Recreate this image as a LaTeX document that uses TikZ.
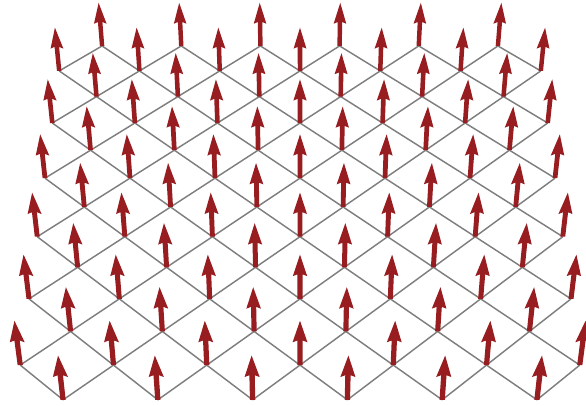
\documentclass[tikz,border=0pt]{standalone}
\usepackage{tikz}
\usepackage{xcolor}
\usetikzlibrary{calc}

% perspective camera: ground plane z=0, camera pitched down by \camT
\newcommand{\spinproj}[4]{% X, Y, Z, name
  \pgfmathsetmacro{\dep}{\camR + (#2)*cos(\camT) - (#3)*sin(\camT)}
  \pgfmathsetmacro{\upc}{(#2)*sin(\camT) + (#3)*cos(\camT)}
  \pgfmathsetmacro{\sx}{\xO + \camF*(#1)/\dep}
  \pgfmathsetmacro{\sy}{\yO - \camF*\upc/\dep}
  \coordinate (#4) at (\sx,\sy);
}

\begin{document}
\begin{tikzpicture}[
  x=1pt, y=-1pt,
  bond/.style={draw=cbond, line width=1.45pt},
  spin/.style={fill=cspin, draw=none},
]
\definecolor{cbond}{HTML}{7E7E7E}   % lattice bonds
\definecolor{cspin}{HTML}{971D20}   % spin arrows

\useasboundingbox (0,0) rectangle (586,406);
\clip (0,0) rectangle (586,406);

\pgfmathsetmacro{\camF}{2118}   % focal length (px)
\pgfmathsetmacro{\camR}{49.1}   % camera distance (lattice units)
\pgfmathsetmacro{\camT}{42.7}   % pitch angle
\pgfmathsetmacro{\xO}{300}
\pgfmathsetmacro{\yO}{207}

\pgfmathsetmacro{\sL}{1.36}     % spin length
\pgfmathsetmacro{\sH}{0.56}     % shaft top
\pgfmathsetmacro{\sB}{0.52}     % head barbs
\pgfmathsetmacro{\ws}{0.056}    % shaft half width
\pgfmathsetmacro{\wh}{0.158}    % head half width

% =====================================================================
% Lattice sites (c,r), c+r odd, r=0 at the back
% =====================================================================
\foreach \r in {0,...,12}{
  \foreach \c in {-6,...,6}{
    \pgfmathtruncatemacro{\odd}{mod(\c+\r+20,2)}
    \ifnum\odd=1
      \spinproj{\c}{6-\r}{0}{p\c-\r}
    \fi
  }
}

% =====================================================================
% Bonds between nearest neighbours
% =====================================================================
\foreach \r in {0,...,11}{
  \foreach \c in {-6,...,6}{
    \pgfmathtruncatemacro{\odd}{mod(\c+\r+20,2)}
    \pgfmathtruncatemacro{\rn}{\r+1}
    \pgfmathtruncatemacro{\cl}{\c-1}
    \pgfmathtruncatemacro{\cr}{\c+1}
    \ifnum\odd=1
      \ifnum\c>-6 \draw[bond] (p\c-\r) -- (p\cl-\rn); \fi
      \ifnum\c<6  \draw[bond] (p\c-\r) -- (p\cr-\rn); \fi
    \fi
  }
}

% =====================================================================
% Spins, back to front
% =====================================================================
\foreach \r in {0,...,12}{
  \foreach \c in {-6,...,6}{
    \pgfmathtruncatemacro{\odd}{mod(\c+\r+20,2)}
    \ifnum\odd=1
      \pgfmathsetmacro{\Yw}{6-\r}
      \spinproj{\c-\ws}{\Yw}{0}{sA}
      \spinproj{\c-\ws}{\Yw}{\sH*\sL}{sB}
      \spinproj{\c-\wh}{\Yw}{\sB*\sL}{sC}
      \spinproj{\c}{\Yw}{\sL}{sT}
      \spinproj{\c+\wh}{\Yw}{\sB*\sL}{sD}
      \spinproj{\c+\ws}{\Yw}{\sH*\sL}{sE}
      \spinproj{\c+\ws}{\Yw}{0}{sF}
      \fill[spin] (sA) -- (sB) -- (sC) -- (sT) -- (sD) -- (sE) -- (sF) -- cycle;
    \fi
  }
}

\end{tikzpicture}
\end{document}
